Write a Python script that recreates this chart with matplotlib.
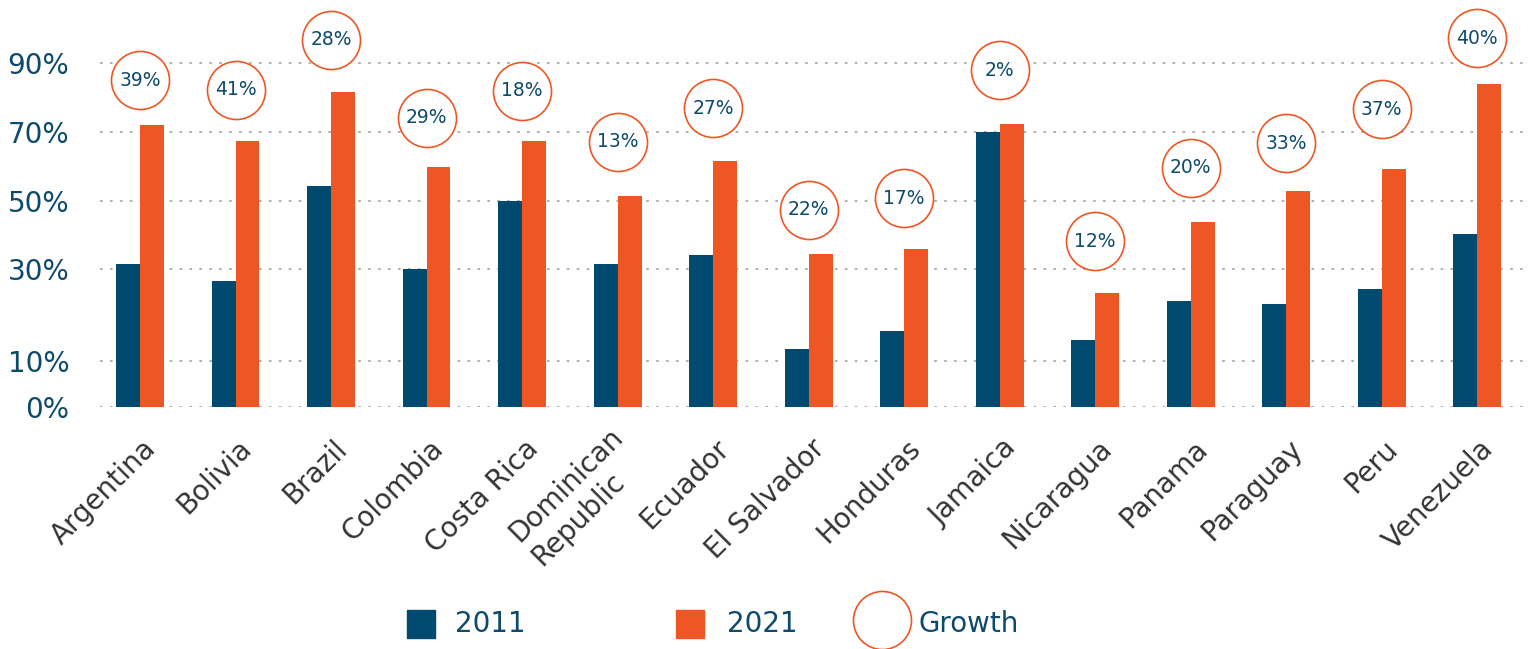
import numpy as np
import matplotlib
matplotlib.use("Agg")
import matplotlib.pyplot as plt
from matplotlib.transforms import ScaledTranslation
from matplotlib.lines import Line2D

# Dados
paises = ["Argentina", "Bolivia", "Brazil", "Colombia", "Costa Rica",
          "Dominican\nRepublic", "Ecuador", "El Salvador", "Honduras",
          "Jamaica", "Nicaragua", "Panama", "Paraguay", "Peru", "Venezuela"]
v2011 = [31.6, 27.5, 54.5, 30.0, 50.0, 31.6, 34.2, 12.7, 16.6, 70.1,
         14.6, 23.1, 22.5, 25.7, 40.2]
v2021 = [72.1, 67.5, 81.7, 59.9, 67.5, 51.5, 61.6, 34.5, 35.9, 72.4,
         24.8, 43.9, 52.9, 59.3, 84.0]
crescimento = [39, 41, 28, 29, 18, 13, 27, 22, 17, 2, 12, 20, 33, 37, 40]
yticks = [0, 10, 30, 50, 70, 90]

# Layout: elevacao de cada circulo acima da barra 2021 (px)
elevacao = [45, 51, 52, 49, 50, 54, 53, 44, 51, 54, 52, 54, 48, 60, 46]

# Paleta
AZUL = "#004A6F"
LARANJA = "#EE5624"
TEXTO_AZUL = "#0D4A6C"
TEXTO_CINZA = "#333333"
GRADE = "#AAAAAA"

plt.rcParams["font.family"] = ["DejaVu Sans"]

# escala vertical irregular do original (valor -> posicao)
ESC_V = [-20, 0, 10, 30, 50, 70, 90, 130]
ESC_P = [-92, 0, 46, 138, 206.3, 275, 344, 481.6]


def fwd(v):
    return np.interp(v, ESC_V, ESC_P)


def inv(p):
    return np.interp(p, ESC_P, ESC_V)


fig = plt.figure(figsize=(15.36, 6.49), dpi=100)
ax = fig.add_axes([100 / 1536, 0.3724, 1427 / 1536, 0.6276])
ax.set_yscale("function", functions=(fwd, inv))

x = np.arange(len(paises))
ax.bar(x - 0.125, v2011, width=0.25, color=AZUL, zorder=2)
ax.bar(x + 0.125, v2021, width=0.25, color=LARANJA, zorder=2)

ax.set_xlim(-0.419, 14.52)
ax.set_ylim(0, inv(407.3))

# circulos de crescimento
for xi, v, g, dy in zip(x, v2021, crescimento, elevacao):
    tr = ax.transData + ScaledTranslation(0, dy / 100, fig.dpi_scale_trans)
    ax.plot([xi], [v], marker="o", ms=41.8, mfc="white", mec=LARANJA,
            mew=1.2, transform=tr, clip_on=False, zorder=4)
    ax.text(xi, v, f"{g}%", transform=tr, ha="center", va="center",
            fontsize=13.5, color=TEXTO_AZUL, zorder=5, clip_on=False)

# eixos
ax.set_yticks(yticks, [f"{t}%" for t in yticks])
ax.tick_params(axis="y", length=0, pad=22, labelsize=20, labelcolor=TEXTO_AZUL)
ax.yaxis.set_minor_locator(matplotlib.ticker.NullLocator())
ax.grid(axis="y", linestyle=(0, (1.5, 4)), linewidth=1.3, color=GRADE)
ax.set_axisbelow(True)

ax.set_xticks(x, paises, rotation=45, ha="right", va="center",
              rotation_mode="anchor", multialignment="left")
ax.tick_params(axis="x", length=0, pad=26.6, labelsize=20, labelcolor=TEXTO_CINZA)
desloc = ScaledTranslation(0.12, 0, fig.dpi_scale_trans)
for lab in ax.get_xticklabels():
    lab.set_transform(lab.get_transform() + desloc)

for s in ax.spines.values():
    s.set_visible(False)

# legenda manual
y_leg = 25 / 649
fig.add_artist(Line2D([420.5 / 1536], [y_leg], marker="s", ms=20.5, color=AZUL,
                      ls="none", transform=fig.transFigure))
fig.text(455 / 1536, y_leg, "2011", ha="left", va="center", fontsize=20,
         color=TEXTO_AZUL)
fig.add_artist(Line2D([690 / 1536], [y_leg], marker="s", ms=20.5, color=LARANJA,
                      ls="none", transform=fig.transFigure))
fig.text(727 / 1536, y_leg, "2021", ha="left", va="center", fontsize=20,
         color=TEXTO_AZUL)
fig.add_artist(Line2D([882 / 1536], [29 / 649], marker="o", ms=41.8, mfc="white",
                      mec=LARANJA, mew=1.2, ls="none", transform=fig.transFigure))
fig.text(918 / 1536, y_leg, "Growth", ha="left", va="center", fontsize=20,
         color=TEXTO_AZUL)

fig.savefig("out.png", dpi=100, facecolor="white")
